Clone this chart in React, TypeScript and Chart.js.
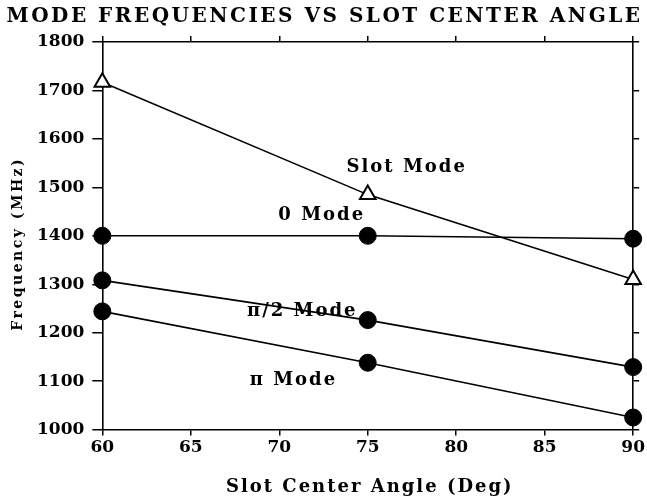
import React, { useEffect, useRef } from "react";
import { Chart, registerables } from "chart.js";

Chart.register(...registerables);

const angles = [60, 75, 90];
const slotMode = [1717, 1485, 1310];
const zeroMode = [1400, 1400, 1394];
const halfPiMode = [1308, 1226, 1129];
const piMode = [1244, 1138, 1025];

const xTicks = [60, 65, 70, 75, 80, 85, 90];
const yTicks = [1000, 1100, 1200, 1300, 1400, 1500, 1600, 1700, 1800];

const noteTexts = ["Slot Mode", "0 Mode", "\u03c0/2 Mode", "\u03c0 Mode"];
const noteX = [77.2, 72.4, 71.3, 70.8];
const noteY = [1542, 1443, 1244, 1102];

const chartTitle = "MODE FREQUENCIES VS SLOT CENTER ANGLE";
const xTitle = "Slot Center Angle (Deg)";
const yTitle = "Frequency (MHz)";

const FONT = "'DejaVu Serif', 'Liberation Serif', serif";

const textPlugin = {
  id: "texts",
  afterDraw(chart: any) {
    const { ctx, scales, chartArea } = chart;
    ctx.save();
    ctx.fillStyle = "#000";
    ctx.textAlign = "center";
    ctx.textBaseline = "middle";
    ctx.font = `bold 20px ${FONT}`;
    (ctx as any).letterSpacing = "2.5px";
    ctx.fillText(chartTitle, chart.width / 2 + 1, 17);
    ctx.font = `bold 18px ${FONT}`;
    (ctx as any).letterSpacing = "2px";
    ctx.fillText(xTitle, (chartArea.left + chartArea.right) / 2 + 2, 487);
    ctx.save();
    ctx.translate(18, (chartArea.top + chartArea.bottom) / 2 + 8);
    ctx.rotate(-Math.PI / 2);
    ctx.font = `bold 14px ${FONT}`;
    (ctx as any).letterSpacing = "2.5px";
    ctx.fillText(yTitle, 0, 0);
    ctx.restore();
    ctx.font = `bold 18px ${FONT}`;
    (ctx as any).letterSpacing = "2px";
    noteTexts.forEach((t, i) => {
      ctx.fillText(t, scales.x.getPixelForValue(noteX[i]), scales.y.getPixelForValue(noteY[i]));
    });
    ctx.restore();
  },
};

export default function App() {
  const ref = useRef<HTMLCanvasElement>(null);
  useEffect(() => {
    document.body.style.margin = "0";
    const mk = (data: number[], style: string) => ({
      data: angles.map((a, i) => ({ x: a, y: data[i] })),
      borderColor: "#000",
      backgroundColor: style === "triangle" ? "#fff" : "#000",
      pointBorderColor: "#000",
      pointBorderWidth: style === "triangle" ? 2 : 1,
      borderWidth: 1.6,
      pointStyle: style,
      pointRadius: style === "triangle" ? 9 : 8.5,
      clip: false as any,
      showLine: true,
    });
    const tickCb = (vals: number[]) => (scale: any) => {
      scale.ticks = vals.map((v) => ({ value: v }));
    };
    const tickFont = { family: FONT, size: 17, weight: "bold" as const };
    const chart = new Chart(ref.current!, {
      type: "scatter",
      data: {
        datasets: [
          mk(slotMode, "triangle"),
          mk(zeroMode, "circle"),
          mk(halfPiMode, "circle"),
          mk(piMode, "circle"),
        ],
      },
      options: {
        animation: false,
        responsive: false,
        layout: { padding: { top: 36, right: 0, left: 29, bottom: 42 } },
        plugins: {
          legend: { display: false },
          tooltip: { enabled: false },
          title: { display: false },
        },
        scales: {
          x: {
            type: "linear",
            min: 60,
            max: 90,
            afterBuildTicks: tickCb(xTicks),
            border: { color: "#000", width: 1.6 },
            grid: { drawOnChartArea: false, color: "#000", tickLength: 6, lineWidth: 1.5 },
            ticks: {
              color: "#000",
              font: tickFont,
              padding: 2,
              maxRotation: 0,
              callback: (v: any) => String(v),
            },
          },
          x2: {
            type: "linear",
            position: "top",
            min: 60,
            max: 90,
            afterBuildTicks: tickCb(xTicks),
            border: { color: "#000", width: 1.6 },
            grid: { drawOnChartArea: false, color: "#000", tickLength: 6, lineWidth: 1.5 },
            ticks: { display: false },
          },
          y: {
            type: "linear",
            min: 1000,
            max: 1800,
            afterBuildTicks: tickCb(yTicks),
            border: { color: "#000", width: 1.6 },
            grid: { drawOnChartArea: false, color: "#000", tickLength: 10, lineWidth: 1.5 },
            ticks: {
              color: "#000",
              font: tickFont,
              padding: 8,
              callback: (v: any) => String(v),
            },
          },
          y2: {
            type: "linear",
            position: "right",
            min: 1000,
            max: 1800,
            afterBuildTicks: tickCb(yTicks),
            border: { color: "#000", width: 1.6 },
            grid: { drawOnChartArea: false, color: "#000", tickLength: 6, lineWidth: 1.5 },
            ticks: { display: false },
          },
        },
      },
      plugins: [textPlugin],
    });
    return () => chart.destroy();
  }, []);
  return <canvas ref={ref} width={647} height={502} style={{ display: "block" }} />;
}
